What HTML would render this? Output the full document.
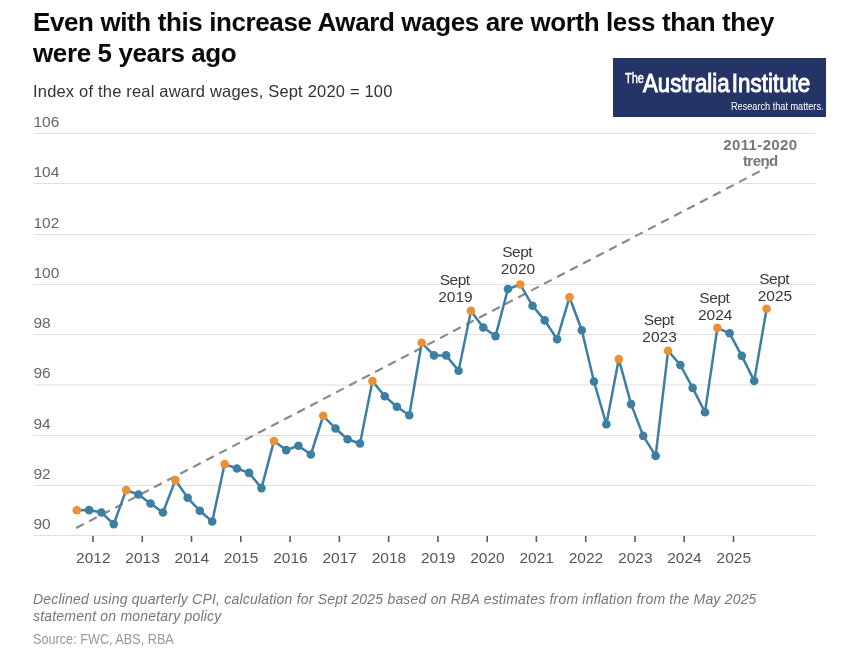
<!DOCTYPE html>
<html><head><meta charset="utf-8">
<style>
*{margin:0;padding:0;box-sizing:border-box}
html,body{width:850px;height:655px;background:#fff;overflow:hidden}
body{position:relative;font-family:"Liberation Sans",sans-serif}
#wrap{position:absolute;left:0;top:0;width:850px;height:655px;will-change:transform}
.abs{position:absolute;white-space:nowrap}
#title{left:33px;top:7px;font-size:26px;font-weight:bold;line-height:31px;color:#0a0a0a;letter-spacing:-0.39px}
#sub{left:33px;top:81px;font-size:16.5px;color:#333;line-height:20px;letter-spacing:0.19px}
#logo{left:613px;top:57.5px;width:213px;height:59px;background:#243466}
#note{left:33px;top:591.2px;font-size:14px;font-style:italic;color:#777;line-height:17px;letter-spacing:0.2px}
#src{left:33px;top:630.5px;font-size:14px;color:#999;line-height:17px;transform:scaleX(0.905);transform-origin:0 0}
svg{position:absolute;left:0;top:0}
.g{stroke:#e0e0e0;stroke-width:1.2}
.t{stroke:#5a5a5a;stroke-width:1.6}
.yl{font-size:15.5px;fill:#666}
.xl{font-size:15.5px;fill:#555;text-anchor:middle}
.tr{stroke:#8a8a8a;stroke-width:2.2;stroke-dasharray:8.6 6.06}
.dl{fill:none;stroke:#3d7fa3;stroke-width:2.5;stroke-linejoin:round}
.b{fill:#3d7fa3}
.o{fill:#e99234}
.lab{font-size:15.5px;fill:#3a3a3a;text-anchor:middle}
.trl{font-size:15px;font-weight:bold;fill:#777;text-anchor:middle}
.lg{fill:#fff}
</style></head><body>
<div id="wrap">
<div id="title" class="abs">Even with this increase Award wages are worth less than they<br>were 5 years ago</div>
<div id="sub" class="abs">Index of the real award wages, Sept 2020 = 100</div>
<div id="logo" class="abs"></div>
<svg width="850" height="655" viewBox="0 0 850 655">
<line x1="33.5" x2="815.5" y1="535.5" y2="535.5" class="g"/>
<line x1="33.5" x2="815.5" y1="485.5" y2="485.5" class="g"/>
<line x1="33.5" x2="815.5" y1="435.5" y2="435.5" class="g"/>
<line x1="33.5" x2="815.5" y1="385.0" y2="385.0" class="g"/>
<line x1="33.5" x2="815.5" y1="334.5" y2="334.5" class="g"/>
<line x1="33.5" x2="815.5" y1="284.5" y2="284.5" class="g"/>
<line x1="33.5" x2="815.5" y1="234.5" y2="234.5" class="g"/>
<line x1="33.5" x2="815.5" y1="183.5" y2="183.5" class="g"/>
<line x1="33.5" x2="815.5" y1="133.5" y2="133.5" class="g"/>
<text x="33.5" y="528.7" class="yl">90</text>
<text x="33.5" y="478.7" class="yl">92</text>
<text x="33.5" y="428.7" class="yl">94</text>
<text x="33.5" y="378.2" class="yl">96</text>
<text x="33.5" y="327.7" class="yl">98</text>
<text x="33.5" y="277.7" class="yl">100</text>
<text x="33.5" y="227.7" class="yl">102</text>
<text x="33.5" y="176.7" class="yl">104</text>
<text x="33.5" y="126.7" class="yl">106</text>
<line x1="93.0" x2="93.0" y1="536" y2="542" class="t"/>
<text x="93.3" y="562.8" class="xl">2012</text>
<line x1="142.3" x2="142.3" y1="536" y2="542" class="t"/>
<text x="142.6" y="562.8" class="xl">2013</text>
<line x1="191.5" x2="191.5" y1="536" y2="542" class="t"/>
<text x="191.8" y="562.8" class="xl">2014</text>
<line x1="240.8" x2="240.8" y1="536" y2="542" class="t"/>
<text x="241.1" y="562.8" class="xl">2015</text>
<line x1="290.1" x2="290.1" y1="536" y2="542" class="t"/>
<text x="290.4" y="562.8" class="xl">2016</text>
<line x1="339.4" x2="339.4" y1="536" y2="542" class="t"/>
<text x="339.7" y="562.8" class="xl">2017</text>
<line x1="388.6" x2="388.6" y1="536" y2="542" class="t"/>
<text x="388.9" y="562.8" class="xl">2018</text>
<line x1="437.9" x2="437.9" y1="536" y2="542" class="t"/>
<text x="438.2" y="562.8" class="xl">2019</text>
<line x1="487.2" x2="487.2" y1="536" y2="542" class="t"/>
<text x="487.5" y="562.8" class="xl">2020</text>
<line x1="536.4" x2="536.4" y1="536" y2="542" class="t"/>
<text x="536.7" y="562.8" class="xl">2021</text>
<line x1="585.7" x2="585.7" y1="536" y2="542" class="t"/>
<text x="586.0" y="562.8" class="xl">2022</text>
<line x1="635.0" x2="635.0" y1="536" y2="542" class="t"/>
<text x="635.3" y="562.8" class="xl">2023</text>
<line x1="684.2" x2="684.2" y1="536" y2="542" class="t"/>
<text x="684.5" y="562.8" class="xl">2024</text>
<line x1="733.5" x2="733.5" y1="536" y2="542" class="t"/>
<text x="733.8" y="562.8" class="xl">2025</text>
<line x1="76.2" y1="528" x2="768" y2="167.0" class="tr"/>
<path d="M76.83,510.2 L89.12,510.1 L101.38,512.5 L113.76,524.1 L126.15,490.1 L138.40,494.5 L150.53,503.5 L162.95,512.5 L175.37,480.1 L187.66,497.8 L199.80,510.8 L212.22,521.5 L224.64,464.1 L236.93,468.5 L249.07,472.9 L261.49,488.1 L273.91,441.1 L286.20,450.1 L298.46,445.8 L310.84,454.5 L323.23,415.8 L335.48,428.5 L347.61,439.3 L360.03,443.5 L372.45,381.1 L384.74,396.2 L396.88,406.8 L409.30,415.2 L421.72,342.8 L434.01,355.4 L446.15,355.4 L458.57,370.8 L470.99,310.9 L483.28,327.5 L495.54,336.1 L507.92,289.0 L520.31,284.5 L532.56,305.8 L544.69,320.4 L557.11,339.2 L569.53,297.2 L581.82,330.2 L593.96,381.5 L606.38,424.3 L618.80,359.1 L631.09,404.1 L643.23,435.9 L655.65,455.9 L668.07,350.8 L680.36,365.0 L692.62,387.9 L705.00,412.3 L717.39,327.9 L729.64,333.3 L741.77,355.9 L754.19,380.9 L766.61,308.8" class="dl"/>
<circle cx="76.83" cy="510.2" r="4.3" class="o"/>
<circle cx="89.12" cy="510.1" r="4.3" class="b"/>
<circle cx="101.38" cy="512.5" r="4.3" class="b"/>
<circle cx="113.76" cy="524.1" r="4.3" class="b"/>
<circle cx="126.15" cy="490.1" r="4.3" class="o"/>
<circle cx="138.40" cy="494.5" r="4.3" class="b"/>
<circle cx="150.53" cy="503.5" r="4.3" class="b"/>
<circle cx="162.95" cy="512.5" r="4.3" class="b"/>
<circle cx="175.37" cy="480.1" r="4.3" class="o"/>
<circle cx="187.66" cy="497.8" r="4.3" class="b"/>
<circle cx="199.80" cy="510.8" r="4.3" class="b"/>
<circle cx="212.22" cy="521.5" r="4.3" class="b"/>
<circle cx="224.64" cy="464.1" r="4.3" class="o"/>
<circle cx="236.93" cy="468.5" r="4.3" class="b"/>
<circle cx="249.07" cy="472.9" r="4.3" class="b"/>
<circle cx="261.49" cy="488.1" r="4.3" class="b"/>
<circle cx="273.91" cy="441.1" r="4.3" class="o"/>
<circle cx="286.20" cy="450.1" r="4.3" class="b"/>
<circle cx="298.46" cy="445.8" r="4.3" class="b"/>
<circle cx="310.84" cy="454.5" r="4.3" class="b"/>
<circle cx="323.23" cy="415.8" r="4.3" class="o"/>
<circle cx="335.48" cy="428.5" r="4.3" class="b"/>
<circle cx="347.61" cy="439.3" r="4.3" class="b"/>
<circle cx="360.03" cy="443.5" r="4.3" class="b"/>
<circle cx="372.45" cy="381.1" r="4.3" class="o"/>
<circle cx="384.74" cy="396.2" r="4.3" class="b"/>
<circle cx="396.88" cy="406.8" r="4.3" class="b"/>
<circle cx="409.30" cy="415.2" r="4.3" class="b"/>
<circle cx="421.72" cy="342.8" r="4.3" class="o"/>
<circle cx="434.01" cy="355.4" r="4.3" class="b"/>
<circle cx="446.15" cy="355.4" r="4.3" class="b"/>
<circle cx="458.57" cy="370.8" r="4.3" class="b"/>
<circle cx="470.99" cy="310.9" r="4.3" class="o"/>
<circle cx="483.28" cy="327.5" r="4.3" class="b"/>
<circle cx="495.54" cy="336.1" r="4.3" class="b"/>
<circle cx="507.92" cy="289.0" r="4.3" class="b"/>
<circle cx="520.31" cy="284.5" r="4.3" class="o"/>
<circle cx="532.56" cy="305.8" r="4.3" class="b"/>
<circle cx="544.69" cy="320.4" r="4.3" class="b"/>
<circle cx="557.11" cy="339.2" r="4.3" class="b"/>
<circle cx="569.53" cy="297.2" r="4.3" class="o"/>
<circle cx="581.82" cy="330.2" r="4.3" class="b"/>
<circle cx="593.96" cy="381.5" r="4.3" class="b"/>
<circle cx="606.38" cy="424.3" r="4.3" class="b"/>
<circle cx="618.80" cy="359.1" r="4.3" class="o"/>
<circle cx="631.09" cy="404.1" r="4.3" class="b"/>
<circle cx="643.23" cy="435.9" r="4.3" class="b"/>
<circle cx="655.65" cy="455.9" r="4.3" class="b"/>
<circle cx="668.07" cy="350.8" r="4.3" class="o"/>
<circle cx="680.36" cy="365.0" r="4.3" class="b"/>
<circle cx="692.62" cy="387.9" r="4.3" class="b"/>
<circle cx="705.00" cy="412.3" r="4.3" class="b"/>
<circle cx="717.39" cy="327.9" r="4.3" class="o"/>
<circle cx="729.64" cy="333.3" r="4.3" class="b"/>
<circle cx="741.77" cy="355.9" r="4.3" class="b"/>
<circle cx="754.19" cy="380.9" r="4.3" class="b"/>
<circle cx="766.61" cy="308.8" r="4.3" class="o"/>
<text class="trl" x="760.4" y="149.6" letter-spacing="0.35">2011-2020</text>
<text class="trl" x="760.3" y="166.3" letter-spacing="-0.55">trend</text>
<text class="lab" x="454.7" y="284.7" letter-spacing="-0.45">Sept</text><text class="lab" x="455.5" y="301.7">2019</text>
<text class="lab" x="517.2" y="256.7" letter-spacing="-0.45">Sept</text><text class="lab" x="518" y="273.9">2020</text>
<text class="lab" x="658.8" y="325.3" letter-spacing="-0.45">Sept</text><text class="lab" x="659.6" y="342.4">2023</text>
<text class="lab" x="714.4" y="302.5" letter-spacing="-0.45">Sept</text><text class="lab" x="715.2" y="319.6">2024</text>
<text class="lab" x="774.2" y="283.9" letter-spacing="-0.45">Sept</text><text class="lab" x="775" y="301">2025</text>
<g class="lg">
<text x="625" y="83.3" font-size="15" stroke="#fff" stroke-width="0.5" textLength="19" lengthAdjust="spacingAndGlyphs">The</text>
<text x="643" y="91.8" font-size="26" stroke="#fff" stroke-width="1" textLength="86.5" lengthAdjust="spacingAndGlyphs">Australia</text>
<text x="731.8" y="91.8" font-size="26" stroke="#fff" stroke-width="1" textLength="78.5" lengthAdjust="spacingAndGlyphs">Institute</text>
<text x="731" y="109.8" font-size="11" textLength="92.5" lengthAdjust="spacingAndGlyphs">Research that matters.</text>
</g>
</svg>
<div id="note" class="abs">Declined using quarterly CPI, calculation for Sept 2025 based on RBA estimates from inflation from the May 2025<br>statement on monetary policy</div>
<div id="src" class="abs">Source: FWC, ABS, RBA</div>
</div>
</body></html>
